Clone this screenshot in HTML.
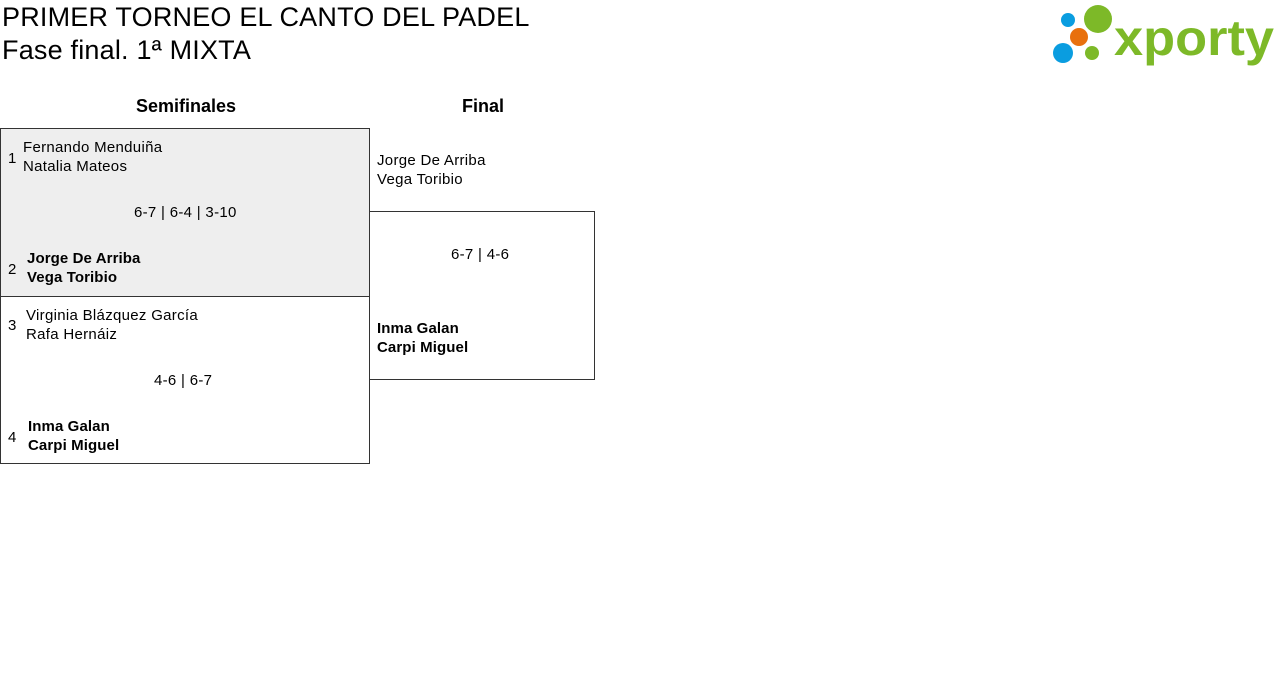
<!DOCTYPE html>
<html><head><meta charset="utf-8"><style>
body{margin:0;width:1280px;height:694px;background:#fff;font-family:"Liberation Sans",sans-serif;color:#000;position:relative;overflow:hidden}
.a{position:absolute;white-space:nowrap}
.t{font-size:27px;line-height:32px;left:2px;letter-spacing:0.2px}
.s{font-size:15px;line-height:19px;letter-spacing:0.3px}
.b{font-weight:bold;letter-spacing:0.1px}
.box{position:absolute;border:1px solid #333;box-sizing:border-box}
</style></head><body>
<div class="a t" style="top:1px">PRIMER TORNEO EL CANTO DEL PADEL</div>
<div class="a t" style="top:34px">Fase final. 1ª MIXTA</div>
<svg class="a" style="left:1050px;top:4px" width="226" height="64">
<circle cx="18" cy="16" r="7" fill="#0a9de0"/>
<circle cx="48" cy="15" r="14" fill="#7db928"/>
<circle cx="29" cy="33" r="9" fill="#e8700e"/>
<circle cx="13" cy="49" r="10" fill="#0a9de0"/>
<circle cx="42" cy="49" r="7" fill="#7db928"/>
<text x="64" y="51" font-family="Liberation Sans,sans-serif" font-weight="bold" font-size="50" fill="#7db928" textLength="160" lengthAdjust="spacingAndGlyphs">xporty</text>
</svg>
<div class="a" style="left:136px;top:96px;font-size:18px;font-weight:600">Semifinales</div>
<div class="a" style="left:462px;top:96px;font-size:18px;font-weight:600">Final</div>
<div class="box" style="left:0;top:128px;width:370px;height:169px;background:#eee"></div>
<div class="box" style="left:0;top:296px;width:370px;height:168px"></div>
<div class="box" style="left:369px;top:211px;width:226px;height:169px"></div>
<div class="a s" style="left:8px;top:149px">1</div>
<div class="a s" style="left:23px;top:138px">Fernando Menduiña<br>Natalia Mateos</div>
<div class="a s" style="left:134px;top:203px">6-7 | 6-4 | 3-10</div>
<div class="a s" style="left:8px;top:260px">2</div>
<div class="a s b" style="left:27px;top:249px">Jorge De Arriba<br>Vega Toribio</div>
<div class="a s" style="left:8px;top:316px">3</div>
<div class="a s" style="left:26px;top:306px">Virginia Blázquez García<br>Rafa Hernáiz</div>
<div class="a s" style="left:154px;top:371px">4-6 | 6-7</div>
<div class="a s" style="left:8px;top:428px">4</div>
<div class="a s b" style="left:28px;top:417px">Inma Galan<br>Carpi Miguel</div>
<div class="a s" style="left:377px;top:151px">Jorge De Arriba<br>Vega Toribio</div>
<div class="a s" style="left:451px;top:245px">6-7 | 4-6</div>
<div class="a s b" style="left:377px;top:319px">Inma Galan<br>Carpi Miguel</div>
</body></html>
